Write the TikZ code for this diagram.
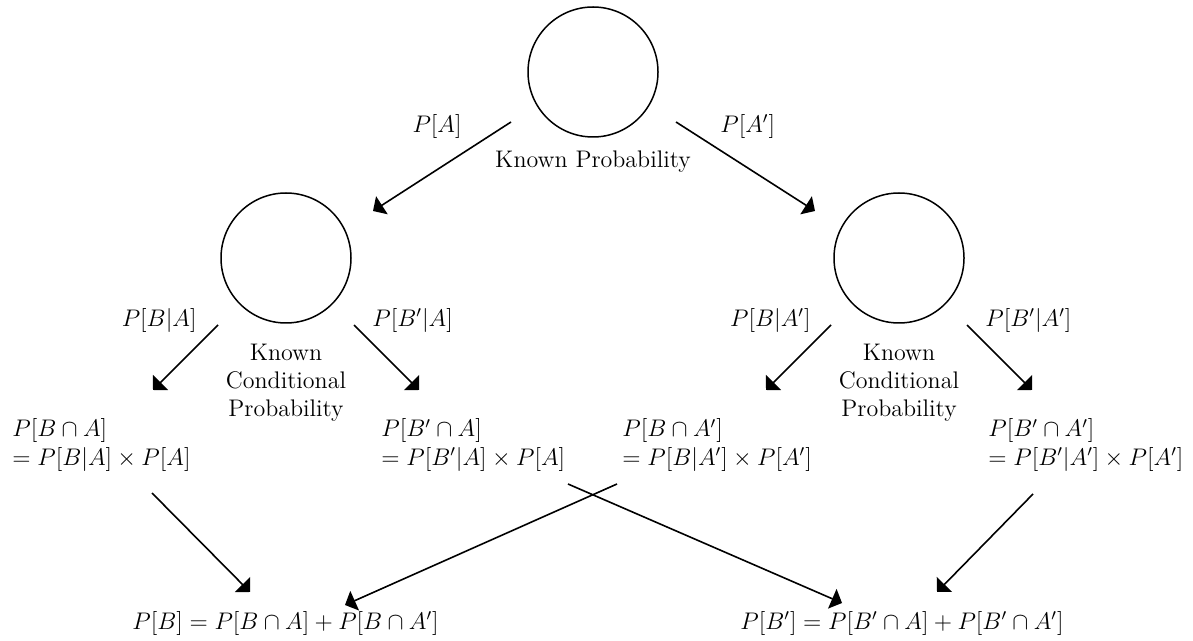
\documentclass[tikz,border=0pt]{standalone}
\usetikzlibrary{arrows.meta}
\begin{document}
\begin{tikzpicture}[x=0.5pt,y=-0.5pt,
  circ/.style={draw,circle,line width=0.75pt,minimum size=65pt,inner sep=0pt},
  lbl/.style={font=\large,inner sep=0pt},
  arr/.style={-{Triangle[angle=90:7.5pt]},line width=0.8pt},
  ]
\useasboundingbox (0,0) rectangle (1193,641);
% circles
\node[circ] (top) at (593,72) {};
\node[circ] (cl) at (286,258) {};
\node[circ] (cr) at (899,258) {};
% captions
\node[lbl,anchor=mid] (kp) at (593,163) {Known Probability};
\node[lbl,align=center] (kcl) at (286,383) {Known\\Conditional\\Probability};
\node[lbl,align=center] (kcr) at (899,383) {Known\\Conditional\\Probability};
% labels
\node[lbl,anchor=mid east] (pa) at (462,128) {$P[A]$};
\node[lbl,anchor=mid west] (pac) at (720,128) {$P[A']$};
\node[lbl,anchor=mid east] (pba) at (197,322) {$P[B|A]$};
\node[lbl,anchor=mid west] (pbca) at (372,322) {$P[B'|A]$};
\node[lbl,anchor=mid east] (pbac) at (811,322) {$P[B|A']$};
\node[lbl,anchor=mid west] (pbcac) at (985,322) {$P[B'|A']$};
% formulas
\node[lbl,align=left,anchor=west] (f1) at (12,445) {$P[B\cap A]$\\$=P[B|A]\times P[A]$};
\node[lbl,align=left,anchor=west] (f2) at (381,445) {$P[B'\cap A]$\\$=P[B'|A]\times P[A]$};
\node[lbl,align=left,anchor=west] (f3) at (622,445) {$P[B\cap A']$\\$=P[B|A']\times P[A']$};
\node[lbl,align=left,anchor=west] (f4) at (988,445) {$P[B'\cap A']$\\$=P[B'|A']\times P[A']$};
\node[lbl,anchor=mid west] (sb) at (132,625) {$P[B]=P[B\cap A]+P[B\cap A']$};
\node[lbl,anchor=mid west] (sbc) at (740,625) {$P[B']=P[B'\cap A]+P[B'\cap A']$};
% connector end points
\coordinate (a1s) at (511,122); \coordinate (a1e) at (373,211);
\coordinate (a2s) at (676,122); \coordinate (a2e) at (815,211);
\coordinate (b1s) at (218,325); \coordinate (b1e) at (153,390);
\coordinate (b2s) at (354,325); \coordinate (b2e) at (419,390);
\coordinate (b3s) at (831,325); \coordinate (b3e) at (766,390);
\coordinate (b4s) at (967,325); \coordinate (b4e) at (1032,390);
\coordinate (c1s) at (152,493); \coordinate (c1e) at (250,592);
\coordinate (c2s) at (617,484); \coordinate (c2e) at (345,605);
\coordinate (c3s) at (568,484); \coordinate (c3e) at (842,603);
\coordinate (c4s) at (1033,494); \coordinate (c4e) at (937,592);
\foreach \s/\e in {a1s/a1e,a2s/a2e,b1s/b1e,b2s/b2e,b3s/b3e,b4s/b4e,c1s/c1e,c2s/c2e,c3s/c3e,c4s/c4e}
  \draw[arr] (\s) -- (\e);
\end{tikzpicture}
\end{document}
